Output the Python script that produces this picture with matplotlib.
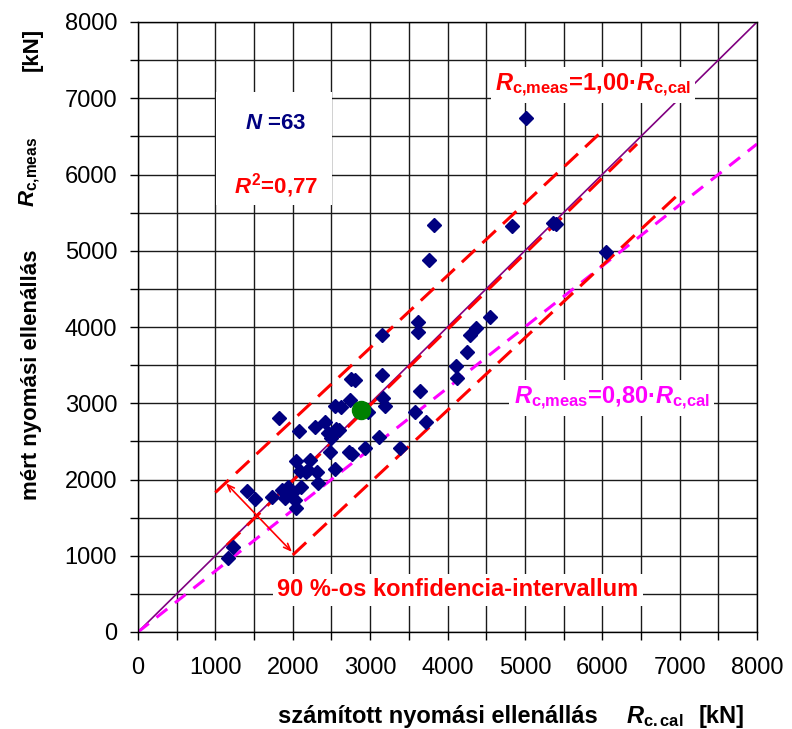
import matplotlib
matplotlib.use("Agg")
import matplotlib.pyplot as plt
from matplotlib.patches import Rectangle

plt.rcParams['font.family'] = ['Liberation Sans', 'DejaVu Sans']
plt.rcParams['mathtext.fontset'] = 'custom'
plt.rcParams['mathtext.rm'] = 'Liberation Sans:bold'
plt.rcParams['mathtext.it'] = 'Liberation Sans:italic:bold'
plt.rcParams['mathtext.bf'] = 'Liberation Sans:bold'

r_cal = [1165, 1223, 1404, 1514, 1727, 1856, 1942, 1905, 1990, 2035, 2038, 2108,
         2045, 2222, 2093, 2175, 2308, 2325, 2545, 2481, 2730, 2761, 2933, 3110,
         3380, 1828, 2080, 2285, 2416, 2450, 2510, 2600, 2490, 2545, 2625, 2745,
         2976, 2755, 2804, 3148, 3165, 3191, 3148, 3622, 3625, 3645, 3579, 3720,
         4105, 4117, 4255, 4285, 4367, 4548, 3760, 3828, 4828, 5366, 5400, 6047,
         5021, 2565, 2200]
r_meas = [966, 1119, 1853, 1740, 1766, 1858, 1906, 1753, 1819, 1731, 1622, 1906,
          2247, 2250, 2110, 2100, 2102, 1958, 2140, 2365, 2365, 2330, 2409, 2561,
          2413, 2803, 2640, 2688, 2756, 2606, 2600, 2650, 2540, 2970, 2947, 3045,
          2890, 3320, 3310, 3370, 3075, 2970, 3890, 4069, 3938, 3165, 2890, 2758,
          3490, 3335, 3676, 3890, 3990, 4130, 4879, 5338, 5329, 5370, 5350, 4980,
          6737, 2660, 2120]

# mean point
mean_cal = [2885]
mean_meas = [2912]

n_samples = 63
r2_text = "0,77"
ratio_low = 0.80
axis_lim = [0, 8000]

# dashed fit line and 90 % band (end points)
fit_x = [1150, 6450]
fit_y = [1140, 6400]
upper_x = [1000, 5990]
upper_y = [1830, 6560]
lower_x = [2000, 7000]
lower_y = [1010, 5755]
# band width arrow
arrow_from = (1137, 1950)
arrow_to = (1990, 1050)

W, H = 792, 729
fig = plt.figure(figsize=(W / 100, H / 100), dpi=100)
ax = fig.add_axes([138 / W, 1 - 632 / H, (757 - 138) / W, (632 - 22) / H])

ax.set_xlim(axis_lim)
ax.set_ylim(axis_lim)
ax.set_xticks(range(0, 8001, 1000))
ax.set_yticks(range(0, 8001, 1000))
ax.set_xticks(range(500, 8000, 1000), minor=True)
ax.set_yticks(range(500, 8000, 1000), minor=True)
ax.grid(True, which='both', color='#1a1a1a', lw=1.0)
ax.set_axisbelow(True)
ax.tick_params(which='both', direction='out', length=6, width=1, labelsize=17)
ax.tick_params(axis='y', pad=9)
ax.tick_params(axis='x', pad=12)
for s in ax.spines.values():
    s.set_color('black')
    s.set_linewidth(1)

# white box behind N / R2
ax.add_patch(Rectangle((1008, 5600), 1500, 1480, facecolor='white',
                       edgecolor='none', zorder=1))

ax.plot(axis_lim, axis_lim, color='#800080', lw=1.2, zorder=2)
ax.plot(axis_lim, [v * ratio_low for v in axis_lim], color='#ff00ff', lw=2.2,
        dashes=(4.5, 3.2), zorder=2)
for xs, ys in [(fit_x, fit_y), (upper_x, upper_y), (lower_x, lower_y)]:
    ax.plot(xs, ys, color='#ff0000', lw=2.2, dashes=(6, 3.2), zorder=2)

ax.annotate('', xy=arrow_to, xytext=arrow_from,
            arrowprops=dict(arrowstyle='<->,head_length=0.5,head_width=0.2',
                            color='#ff0000', lw=1.2, shrinkA=0, shrinkB=0),
            zorder=3)

ax.plot(r_cal, r_meas, linestyle='none', marker='D', markersize=7.5,
        color='#000080', zorder=4)
ax.plot(mean_cal, mean_meas, linestyle='none', marker='o', markersize=13,
        color='#008000', zorder=5)

box = dict(facecolor='white', edgecolor='none', pad=3)
ax.text(1783, 6675, r'$N$ =%d' % n_samples, color='#000080', fontsize=16,
        fontweight='bold', ha='center', va='center', zorder=6)
ax.text(1783, 5849, r'$R^2$=' + r2_text, color='#ff0000', fontsize=16,
        fontweight='bold', ha='center', va='center', zorder=6)
ax.text(5880, 7170, r'$R_{\mathrm{c{,}meas}}$=1,00·$R_{\mathrm{c{,}cal}}$',
        color='#ff0000', fontsize=17, fontweight='bold', ha='center',
        va='center', bbox=box, zorder=6)
ax.text(6120, 3069, r'$R_{\mathrm{c{,}meas}}$=0,80·$R_{\mathrm{c{,}cal}}$',
        color='#ff00ff', fontsize=17, fontweight='bold', ha='center',
        va='center', bbox=box, zorder=6)
ax.text(4134, 551, '90 %-os konfidencia-intervallum', color='#ff0000',
        fontsize=17, fontweight='bold', ha='center', va='center', bbox=box,
        zorder=6)

# axis titles built from pieces
def px(x, y):
    return x / W, 1 - y / H

fig.text(*px(438, 717), 'számított nyomási ellenállás', fontsize=17,
         fontweight='bold', ha='center', va='center')
fig.text(*px(655, 717), r'$R_{\mathrm{c{.}cal}}$', fontsize=17,
         ha='center', va='center')
fig.text(*px(722, 717), '[kN]', fontsize=17, fontweight='bold',
         ha='center', va='center')

fig.text(*px(32, 375), 'mért nyomási ellenállás', fontsize=16,
         fontweight='bold', ha='center', va='center', rotation=90)
fig.text(*px(30, 172), r'$R_{\mathrm{c{,}meas}}$', fontsize=16,
         ha='center', va='center', rotation=90)
fig.text(*px(32, 49), '[kN]', fontsize=16, fontweight='bold',
         ha='center', va='center', rotation=90)

fig.savefig('out.png', dpi=100)
